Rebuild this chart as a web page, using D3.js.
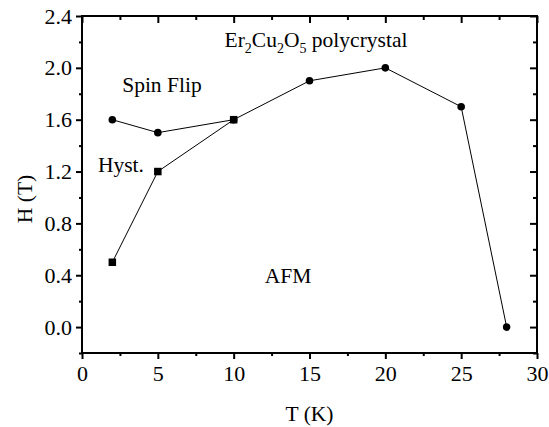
<!DOCTYPE html>
<html>
<head>
<meta charset="utf-8">
<script src="https://cdn.jsdelivr.net/npm/d3@7"></script>
<style>
	body { margin: 0; background: #fff; }
</style>
</head>
<body>
<div id="chart"></div>
<script>
// phase boundary, spin-flip field (circles) and hysteresis edge (squares)
var flipT = [2, 5, 10, 15, 20, 25, 28];
var flipH = [1.6, 1.5, 1.6, 1.9, 2.0, 1.7, 0.0];
var hystT = [2, 5, 10];
var hystH = [0.5, 1.2, 1.6];

var xTicks = [0, 5, 10, 15, 20, 25, 30];
var yTicks = [0.0, 0.4, 0.8, 1.2, 1.6, 2.0, 2.4];

var width = 549, height = 427;
var margin = {left: 82, right: 12, top: 16, bottom: 74};
var iw = width - margin.left - margin.right;
var ih = height - margin.top - margin.bottom;
var serif = '"Liberation Serif", "Times New Roman", serif';
var fs = '21.5px';

var x = d3.scaleLinear().domain([0, 30]).range([0, iw]);
var y = d3.scaleLinear().domain([-0.2, 2.4]).range([ih, 0]);

var svg = d3.select('#chart').append('svg')
	.attr('width', width)
	.attr('height', height)
	.attr('font-family', serif);

var g = svg.append('g')
	.attr('transform', 'translate(' + margin.left + ',' + margin.top + ')');

//minor ticks sit halfway between the labelled ones
var xMinor = d3.range(2.5, 30, 5);
var yMinor = d3.range(-0.2, 2.4, 0.4).map(function(d){return +d.toFixed(1)});

function styleAxis(sel){
	sel.attr('font-family', serif);
	sel.select('.domain').remove();
	sel.selectAll('line').attr('stroke', '#000').attr('stroke-width', 2);
	sel.selectAll('text').style('font-size', '22px').attr('fill', '#000');
}

// bottom & left: outward ticks with labels
g.append('g').attr('transform', 'translate(0,' + ih + ')')
	.call(d3.axisBottom(x).tickValues(xTicks).tickSize(6).tickPadding(6).tickFormat(d3.format('d')))
	.call(styleAxis);
g.append('g').attr('transform', 'translate(0,' + ih + ')')
	.call(d3.axisBottom(x).tickValues(xMinor).tickSize(3).tickFormat(''))
	.call(styleAxis);
g.append('g')
	.call(d3.axisLeft(y).tickValues(yTicks).tickSize(6).tickPadding(4).tickFormat(d3.format('.1f')))
	.call(styleAxis);
g.append('g')
	.call(d3.axisLeft(y).tickValues(yMinor).tickSize(3).tickFormat(''))
	.call(styleAxis);

// top & right: mirrored ticks pointing into the frame
g.append('g')
	.call(d3.axisBottom(x).tickValues(xTicks).tickSize(7).tickFormat(''))
	.call(styleAxis);
g.append('g')
	.call(d3.axisBottom(x).tickValues(xMinor).tickSize(4).tickFormat(''))
	.call(styleAxis);
g.append('g').attr('transform', 'translate(' + iw + ',0)')
	.call(d3.axisLeft(y).tickValues(yTicks).tickSize(7).tickFormat(''))
	.call(styleAxis);
g.append('g').attr('transform', 'translate(' + iw + ',0)')
	.call(d3.axisLeft(y).tickValues(yMinor).tickSize(4).tickFormat(''))
	.call(styleAxis);

g.append('rect')
	.attr('width', iw)
	.attr('height', ih)
	.attr('fill', 'none')
	.attr('stroke', '#000')
	.attr('stroke-width', 2);

var line = d3.line()
	.x(function(d){return x(d[0])})
	.y(function(d){return y(d[1])});

var flip = d3.zip(flipT, flipH);
var hyst = d3.zip(hystT, hystH);

g.append('path').datum(flip)
	.attr('d', line)
	.attr('fill', 'none')
	.attr('stroke', '#000')
	.attr('stroke-width', 1);
g.append('path').datum(hyst)
	.attr('d', line)
	.attr('fill', 'none')
	.attr('stroke', '#000')
	.attr('stroke-width', 1);

g.selectAll('circle.flip').data(flip).enter()
	.append('circle')
	.attr('class', 'flip')
	.attr('cx', function(d){return x(d[0])})
	.attr('cy', function(d){return y(d[1])})
	.attr('r', 3.8)
	.attr('fill', '#000');

var sq = 7.5;
g.selectAll('rect.hyst').data(hyst).enter()
	.append('rect')
	.attr('class', 'hyst')
	.attr('x', function(d){return x(d[0]) - sq/2})
	.attr('y', function(d){return y(d[1]) - sq/2})
	.attr('width', sq)
	.attr('height', sq)
	.attr('fill', '#000');

// region labels
var title = g.append('text')
	.attr('x', x(9.4))
	.attr('y', 31)
	.style('font-size', fs);
title.append('tspan').text('Er');
title.append('tspan').attr('dy', 6).style('font-size', '14px').text('2');
title.append('tspan').attr('dy', -6).text('Cu');
title.append('tspan').attr('dy', 6).style('font-size', '14px').text('2');
title.append('tspan').attr('dy', -6).text('O');
title.append('tspan').attr('dy', 6).style('font-size', '14px').text('5');
title.append('tspan').attr('dy', -6).text(' polycrystal');

g.append('text').attr('x', x(2.65)).attr('y', 76).style('font-size', fs).text('Spin Flip');
g.append('text').attr('x', x(1.05)).attr('y', 156).style('font-size', fs).text('Hyst.');
g.append('text').attr('x', x(12.05)).attr('y', 267).style('font-size', fs).text('AFM');

// axis titles
svg.append('text')
	.attr('x', margin.left + iw/2)
	.attr('y', 421)
	.attr('text-anchor', 'middle')
	.style('font-size', fs)
	.text('T (K)');
svg.append('text')
	.attr('transform', 'translate(32,199) rotate(-90)')
	.attr('text-anchor', 'middle')
	.style('font-size', fs)
	.text('H (T)');

svg.selectAll('text').style('font-family', serif);
</script>
</body>
</html>
